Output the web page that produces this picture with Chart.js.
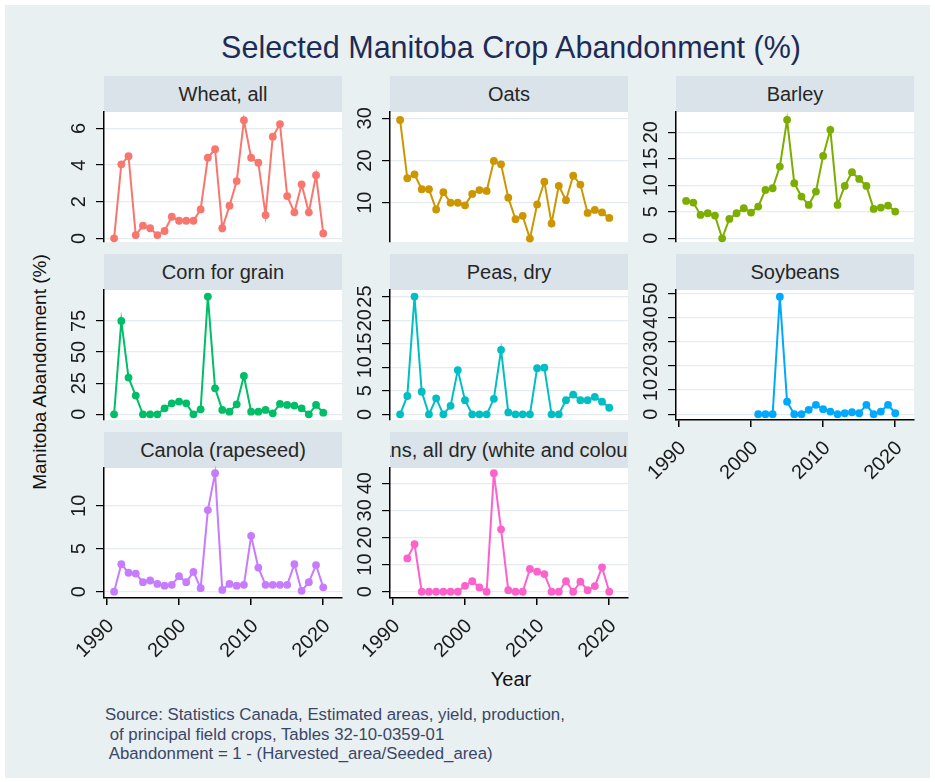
<!DOCTYPE html>
<html><head><meta charset="utf-8">
<script src="https://cdn.jsdelivr.net/npm/chart.js@4.4.1/dist/chart.umd.min.js"></script>
<style>
html,body{margin:0;padding:0;background:#fff;width:935px;height:782px;overflow:hidden;font-family:"Liberation Sans",Arial,sans-serif;}
#bg{position:absolute;left:5px;top:5px;width:925px;height:773px;background:#e9f0f2;}
.strip{position:absolute;background:#d9e3e9;display:flex;align-items:center;justify-content:center;overflow:hidden;white-space:nowrap;font-size:20px;color:#262626;}
canvas{position:absolute;}
#title{position:absolute;left:111px;width:800px;top:29px;line-height:36px;text-align:center;font-size:30.5px;color:#1e2b55;}
#ytitle{position:absolute;left:-110px;top:360px;width:300px;height:24px;line-height:24px;text-align:center;font-size:19px;color:#111;transform:rotate(-90deg);}
#xtitle{position:absolute;left:411px;top:667px;width:200px;line-height:24px;text-align:center;font-size:20px;color:#111;}
#source{position:absolute;left:105px;top:705px;font-size:16.8px;line-height:19.5px;color:#3a4668;white-space:pre;}
</style>
</head><body>
<div id="bg"></div>
<div id="title">Selected Manitoba Crop Abandonment (%)</div>
<div id="ytitle">Manitoba Abandonment (%)</div>
<div id="xtitle">Year</div>
<div id="source">Source: Statistics Canada, Estimated areas, yield, production,
 of principal field crops, Tables 32-10-0359-01
 Abandonment = 1 - (Harvested_area/Seeded_area)</div>
<div id="wrap"></div>
<script>
// ---- data ----
const years = [1991,1992,1993,1994,1995,1996,1997,1998,1999,2000,2001,2002,2003,2004,2005,2006,2007,2008,2009,2010,2011,2012,2013,2014,2015,2016,2017,2018,2019,2020];
const soyYears = [2001,2002,2003,2004,2005,2006,2007,2008,2009,2010,2011,2012,2013,2014,2015,2016,2017,2018,2019,2020];
const beanYears = [1992,1993,1994,1995,1996,1997,1998,1999,2000,2001,2002,2003,2004,2005,2006,2007,2008,2009,2010,2011,2012,2013,2014,2015,2016,2017,2018,2019,2020];

const wheat  = [0,4.04,4.49,0.18,0.69,0.55,0.18,0.4,1.18,0.96,0.96,0.96,1.58,4.4,4.87,0.55,1.78,3.13,6.45,4.4,4.13,1.27,5.55,6.24,2.31,1.42,2.95,1.42,3.45,0.27];
const oats   = [29.6,15.8,16.7,13.2,13.2,8.4,12.5,10.0,10.0,9.4,12.1,13.0,12.8,19.9,19.1,11.2,6.1,6.9,1.5,9.6,15.0,5.1,14.0,10.6,16.4,14.3,7.6,8.3,7.7,6.4];
const barley = [7.04,6.73,4.40,4.72,4.28,0,3.65,4.72,5.66,4.84,5.97,9.12,9.43,13.52,22.33,10.38,7.86,6.29,8.81,15.53,20.44,6.29,9.87,12.45,11.19,9.87,5.53,5.79,6.16,5.03];
const corn   = [0,75.0,29.5,15.0,0,0,0,4.8,8.8,10.2,8.8,0,4.0,94.6,20.9,3.5,2.1,8.0,30.8,2.1,2.1,3.5,0.8,8.3,7.5,7.0,4.8,0,7.5,1.3];
const peas   = [0,3.9,25.0,4.8,0,3.4,0,1.8,9.4,3.0,0,0,0,3.3,13.7,0.4,0,0,0,9.8,9.9,0,0,3.0,4.2,3.0,3.0,3.7,2.7,1.4];
const soybeans = [0,0,0,48.6,5.2,0,0,1.8,3.9,2.1,1.1,0,0.4,0.8,0.4,3.9,0,1.1,3.9,0.4];
const canola = [0,3.2,2.2,2.1,1.1,1.3,0.9,0.7,0.8,1.8,1.1,2.3,0.4,9.5,13.8,0.2,0.9,0.7,0.8,6.5,2.8,0.8,0.8,0.8,0.8,3.2,0.1,1.1,3.1,0.5];
const beans  = [12.3,17.5,0,0,0,0,0,0,2.2,3.9,1.6,0,43.7,23.0,0.6,0,0,8.4,7.4,6.5,0,0,3.9,0,3.7,0.6,2.1,9.0,0];

const xTicks = [1990,2000,2010,2020];
const wheatTicks = [0,2,4,6];
const oatsTicks = [10,20,30];
const barleyTicks = [0,5,10,15,20];
const cornTicks = [0,25,50,75];
const peasTicks = [0,5,10,15,20,25];
const soyTicks = [0,10,20,30,40,50];
const canolaTicks = [0,5,10];
const beansTicks = [0,10,20,30,40];

// ---- layout ----
const colLeft = [104, 390, 676];
const plotW = 238, plotH = 130;
const plotTop = [112, 290, 468];
const stripH = 36;
const YW = 50, PAD = 8, XH = 60;
const FONT = '"Liberation Sans", Arial, sans-serif';

const panels = [
  {name:'Wheat, all', x:years, y:wheat, color:'#F8766D', ticks:wheatTicks, min:-0.2, max:6.9, col:0, row:0, bottom:false},
  {name:'Oats', x:years, y:oats, color:'#CD9600', ticks:oatsTicks, min:0.7, max:31.5, col:1, row:0, bottom:false},
  {name:'Barley', x:years, y:barley, color:'#7CAE00', ticks:barleyTicks, min:-0.7, max:23.8, col:2, row:0, bottom:false},
  {name:'Corn for grain', x:years, y:corn, color:'#00BE67', ticks:cornTicks, min:-4.6, max:99.9, col:0, row:1, bottom:false},
  {name:'Peas, dry', x:years, y:peas, color:'#00BFC4', ticks:peasTicks, min:-1.2, max:26.4, col:1, row:1, bottom:false},
  {name:'Soybeans', x:soyYears, y:soybeans, color:'#00A9FF', ticks:soyTicks, min:-2.4, max:51.4, col:2, row:1, bottom:true},
  {name:'Canola (rapeseed)', x:years, y:canola, color:'#C77CFF', ticks:canolaTicks, min:-0.74, max:14.4, col:0, row:2, bottom:true},
  {name:'Beans, all dry (white and coloured)', x:beanYears, y:beans, color:'#FF61CC', ticks:beansTicks, min:-2.3, max:45.6, col:1, row:2, bottom:true}
];

const bgPlugin = {
  id:'plotbg',
  beforeDraw(chart){
    const a = chart.chartArea, c = chart.ctx;
    c.save(); c.fillStyle = '#ffffff'; c.fillRect(a.left, a.top, a.right-a.left, a.bottom-a.top); c.restore();
  }
};
const labelPlugin = {
  id:'rotlabels',
  afterDraw(chart){
    const c = chart.ctx, a = chart.chartArea;
    const ys = chart.scales.y, xs = chart.scales.x;
    c.save();
    c.fillStyle = '#1a1a1a';
    c.font = '20px ' + FONT;
    ys.ticks.forEach(t => {
      const py = ys.getPixelForValue(t.value);
      c.save(); c.translate(a.left - 25, py); c.rotate(-Math.PI/2);
      c.textAlign = 'center'; c.textBaseline = 'middle';
      c.fillText(String(t.value), 0, 0); c.restore();
    });
    if (chart.options.scales.x.display) {
      xs.ticks.forEach(t => {
        const px = xs.getPixelForValue(t.value);
        c.save(); c.translate(px + 4, a.bottom + 25); c.rotate(-Math.PI/4);
        c.textAlign = 'right'; c.textBaseline = 'middle';
        c.fillText(String(t.value), 0, 0); c.restore();
      });
    }
    c.restore();
  }
};

const wrap = document.getElementById('wrap');
panels.forEach(p => {
  const L = colLeft[p.col], T = plotTop[p.row];
  const strip = document.createElement('div');
  strip.className = 'strip';
  strip.style.left = L + 'px'; strip.style.top = (T - stripH) + 'px';
  strip.style.width = plotW + 'px'; strip.style.height = stripH + 'px';
  const span = document.createElement('span'); span.textContent = p.name; strip.appendChild(span);
  wrap.appendChild(strip);

  const cv = document.createElement('canvas');
  const w = YW + plotW + PAD, h = PAD + plotH + (p.bottom ? XH : PAD);
  cv.width = w; cv.height = h;
  cv.style.left = (L - YW) + 'px'; cv.style.top = (T - PAD) + 'px';
  cv.style.width = w + 'px'; cv.style.height = h + 'px';
  wrap.appendChild(cv);

  new Chart(cv, {
    type:'line',
    data:{ datasets:[{
      data: p.x.map((yr,i) => ({x:yr, y:p.y[i]})),
      borderColor:p.color, backgroundColor:p.color,
      borderWidth:2, pointRadius:3.9, pointBorderWidth:0, pointBackgroundColor:p.color,
      tension:0, clip:false
    }]},
    options:{
      responsive:false, animation:false, devicePixelRatio:1,
      layout:{padding:{top:PAD, right:PAD, bottom:p.bottom?0:PAD, left:0}},
      plugins:{legend:{display:false}, tooltip:{enabled:false}, title:{display:false}},
      scales:{
        x:{
          type:'linear', min:1989.6, max:2022.6, display:p.bottom,
          afterBuildTicks(s){ s.ticks = xTicks.map(v => ({value:v})); },
          afterFit(s){ s.height = p.bottom ? XH : 0; },
          ticks:{display:false},
          grid:{drawOnChartArea:false, drawTicks:true, tickLength:7, tickColor:'#000', color:'#000', lineWidth:1.5},
          border:{display:true, color:'#000', width:1.5}
        },
        y:{
          type:'linear', min:p.min, max:p.max,
          afterBuildTicks(s){ s.ticks = p.ticks.map(v => ({value:v})); },
          afterFit(s){ s.width = YW; },
          ticks:{display:false},
          grid:{drawOnChartArea:true, drawTicks:true, tickLength:8, tickColor:'#000', color:'#e4ecf0', lineWidth:1.2},
          border:{display:true, color:'#000', width:1.5}
        }
      }
    },
    plugins:[bgPlugin, labelPlugin]
  });
});
</script>
</body></html>
